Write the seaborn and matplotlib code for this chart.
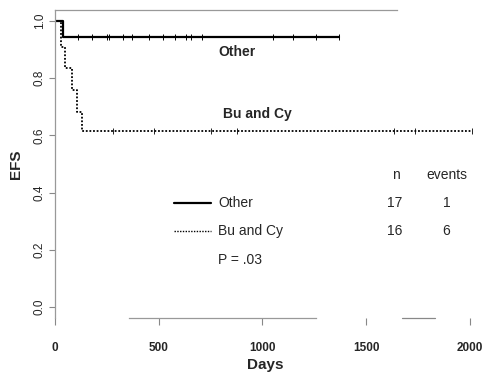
import matplotlib
matplotlib.use("Agg")
import matplotlib.pyplot as plt
import seaborn as sns
import pandas as pd

# ---- data ----
other_days = [0, 40, 1370]
other_efs = [1.0, 0.945, 0.945]
other_censor_days = [112, 177, 249, 262, 329, 370, 454, 522, 578, 631, 655, 707,
                     1052, 1148, 1258, 1370]

bucy_days = [0, 28, 48, 80, 104, 128, 2011]
bucy_efs = [1.0, 0.91, 0.836, 0.759, 0.683, 0.615, 0.615]
bucy_censor_days = [281, 477, 752, 876, 1634, 1738, 2011]

groups = ["Other", "Bu and Cy"]
n_patients = [17, 16]
n_events = [1, 6]
p_value = "P = .03"
x_ticks = [0, 500, 1000, 1500, 2000]
y_ticks = [0.0, 0.2, 0.4, 0.6, 0.8, 1.0]

sns.set_style("white")
plt.rcParams["font.family"] = ["Liberation Sans", "DejaVu Sans"]

fig = plt.figure(figsize=(4.84, 3.73), dpi=100)
ax = fig.add_axes([55 / 484, 1 - 318 / 373, (476 - 55) / 484, (318 - 10) / 373])

df_o = pd.DataFrame({"days": other_days, "efs": other_efs})
df_b = pd.DataFrame({"days": bucy_days, "efs": bucy_efs})

sns.lineplot(data=df_o, x="days", y="efs", ax=ax, color="black", lw=1.6,
             drawstyle="steps-post", estimator=None, sort=False)
sns.lineplot(data=df_b, x="days", y="efs", ax=ax, color="black", lw=1.3,
             linestyle=(0, (1, 1)), drawstyle="steps-post", estimator=None, sort=False)

# censor marks at the survival level
def level(days, efs, t):
    v = efs[0]
    for d, e in zip(days, efs):
        if d <= t:
            v = e
    return v

cen_o = pd.DataFrame({"days": other_censor_days,
                      "efs": [level(other_days, other_efs, t) for t in other_censor_days]})
cen_b = pd.DataFrame({"days": bucy_censor_days,
                      "efs": [level(bucy_days, bucy_efs, t) for t in bucy_censor_days]})
sns.scatterplot(data=cen_o, x="days", y="efs", ax=ax, marker="|", s=22,
                color="black", linewidth=0.7)
sns.scatterplot(data=cen_b, x="days", y="efs", ax=ax, marker="|", s=14,
                color="black", linewidth=0.6)

ax.set_xlim(0, 2030)
ax.set_ylim(-0.0385, 1.0385)

ax.set_xticks(x_ticks)
ax.set_xticklabels([str(t) for t in x_ticks], fontweight="bold", fontsize=8.5)
ax.set_yticks(y_ticks)
ax.set_yticklabels([f"{t:.1f}" for t in y_ticks], fontsize=8.5, rotation=90, va="center")
ax.tick_params(axis="x", bottom=True, direction="out", length=5, width=0.8,
               color="#888888", pad=12)
ax.tick_params(axis="y", left=True, direction="out", length=4, width=0.8,
               color="#888888", pad=2.5)

ax.set_xlabel("Days", fontweight="bold", fontsize=11, labelpad=3)
ax.set_ylabel("EFS", fontweight="bold", fontsize=11, labelpad=8)

for s in ["left", "top", "bottom"]:
    ax.spines[s].set_color("#999999")
    ax.spines[s].set_linewidth(0.9)
ax.spines["right"].set_visible(False)
ax.spines["top"].set_bounds(0, 1650)
ax.spines["bottom"].set_bounds(357, 1258)
ax.plot([1672, 1831], [-0.0385, -0.0385], color="#888888", lw=0.9, clip_on=False)

# curve labels
ax.text(790, 0.892, groups[0], fontweight="bold", fontsize=10, va="center", ha="left")
ax.text(808, 0.675, groups[1], fontweight="bold", fontsize=10, va="center", ha="left")

# legend-like table
ax.plot([573, 752], [0.365, 0.365], color="black", lw=1.6)
ax.plot([573, 752], [0.267, 0.267], color="black", lw=1.0, linestyle=(0, (1, 1)))
ax.text(787, 0.365, groups[0], fontsize=10, va="center")
ax.text(787, 0.267, groups[1], fontsize=10, va="center")
ax.text(787, 0.164, p_value, fontsize=10, va="center")
ax.text(1645, 0.463, "n", fontsize=10, va="center", ha="center")
ax.text(1890, 0.463, "events", fontsize=10, va="center", ha="center")
for yy, nn, ee in zip([0.365, 0.267], n_patients, n_events):
    ax.text(1639, yy, str(nn), fontsize=10, va="center", ha="center")
    ax.text(1888, yy, str(ee), fontsize=10, va="center", ha="center")

fig.savefig("out.png", dpi=100)
